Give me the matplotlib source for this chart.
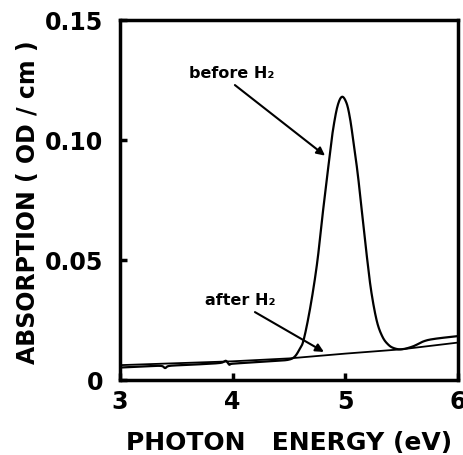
import matplotlib
matplotlib.use("Agg")
import matplotlib.pyplot as plt
import numpy as np

# Curve: absorption (OD/cm) vs photon energy (eV)
before_energy = [3.00, 3.20, 3.36, 3.40, 3.44, 3.60, 3.80, 3.90, 3.94, 3.97,
                 4.00, 4.20, 4.40, 4.50, 4.55, 4.59, 4.63, 4.69, 4.75, 4.80,
                 4.86, 4.89, 4.93, 4.97, 5.01, 5.04, 5.07, 5.11, 5.15, 5.19,
                 5.23, 5.28, 5.33, 5.38, 5.43, 5.50, 5.60, 5.70, 5.80, 6.00]
before_absorption = [0.0052, 0.0056, 0.0059, 0.0050, 0.0059, 0.0063, 0.0068, 0.0072, 0.0080, 0.0064,
                     0.0068, 0.0074, 0.0080, 0.0085, 0.0097, 0.0125, 0.0167, 0.0305, 0.0488, 0.0696,
                     0.0930, 0.1040, 0.1140, 0.1180, 0.1155, 0.1095, 0.1000, 0.0860, 0.0690, 0.0520,
                     0.0370, 0.0245, 0.0180, 0.0148, 0.0133, 0.0128, 0.0140, 0.0162, 0.0172, 0.0183]

after_energy = [3.00, 3.50, 4.00, 4.50, 5.00, 5.50, 5.75, 6.00]
after_absorption = [0.0062, 0.0070, 0.0078, 0.0090, 0.0110, 0.0128, 0.0142, 0.0156]

x_ticks = [3, 4, 5, 6]
y_ticks = [0, 0.05, 0.10, 0.15]
y_tick_labels = ["0", "0.05", "0.10", "0.15"]


def smooth(x, y):
    # Catmull-Rom through the read points so the peak is not angular
    x = np.asarray(x, float)
    y = np.asarray(y, float)
    px = np.concatenate([[2 * x[0] - x[1]], x, [2 * x[-1] - x[-2]]])
    py = np.concatenate([[2 * y[0] - y[1]], y, [2 * y[-1] - y[-2]]])
    out_x, out_y = [], []
    t = np.linspace(0, 1, 20, endpoint=False)
    for i in range(1, len(px) - 2):
        for arr, out in ((px, out_x), (py, out_y)):
            p0, p1, p2, p3 = arr[i - 1], arr[i], arr[i + 1], arr[i + 2]
            out.extend(0.5 * (2 * p1 + (-p0 + p2) * t + (2 * p0 - 5 * p1 + 4 * p2 - p3) * t ** 2
                              + (-p0 + 3 * p1 - 3 * p2 + p3) * t ** 3))
    out_x.append(x[-1])
    out_y.append(y[-1])
    return np.array(out_x), np.array(out_y)


def main():
    plt.rcParams['font.family'] = ['DejaVu Sans']
    plt.rcParams['font.weight'] = 'bold'

    fig = plt.figure(figsize=(4.64, 4.55), dpi=100)
    ax = fig.add_axes([0.2586, 0.1648, 0.7284, 0.7912])

    bx, by = smooth(before_energy, before_absorption)
    ax.plot(bx, by, color="black", lw=1.6)
    ax.plot(after_energy, after_absorption, color="black", lw=1.3)

    ax.set_xlim(3, 6)
    ax.set_ylim(0, 0.15)
    ax.set_xticks(x_ticks)
    ax.set_yticks(y_ticks)
    ax.set_yticklabels(y_tick_labels)
    ax.tick_params(direction="in", length=5, width=2.5, labelsize=17, top=False, right=False)
    ax.tick_params(axis="x", pad=7)
    ax.tick_params(axis="y", pad=12)
    for spine in ax.spines.values():
        spine.set_linewidth(2.5)

    # Axis titles placed in figure pixels to match the original spacing
    fig.text(0.624, 0.012, "PHOTON   ENERGY (eV)", fontsize=18, fontweight="bold",
             ha="center", va="baseline")
    fig.text(0.0754, 0.555, "ABSORPTION ( OD / cm )", fontsize=17, fontweight="bold",
             rotation=90, rotation_mode="anchor", ha="center", va="baseline")

    # Annotations with arrows
    arrow = dict(arrowstyle="-|>", color="black", lw=1.5, mutation_scale=12, shrinkA=0, shrinkB=0)
    ax.text(3.994, 0.1258, "before H₂", fontsize=11.5, fontweight="bold", ha="center", va="baseline")
    ax.annotate("", xy=(4.82, 0.0935), xytext=(4.02, 0.1229), arrowprops=arrow)
    ax.text(4.065, 0.0312, "after H₂", fontsize=11.5, fontweight="bold", ha="center", va="baseline")
    ax.annotate("", xy=(4.81, 0.0117), xytext=(4.198, 0.0283), arrowprops=arrow)

    fig.savefig("out.png", dpi=100)


if __name__ == '__main__':
    main()
